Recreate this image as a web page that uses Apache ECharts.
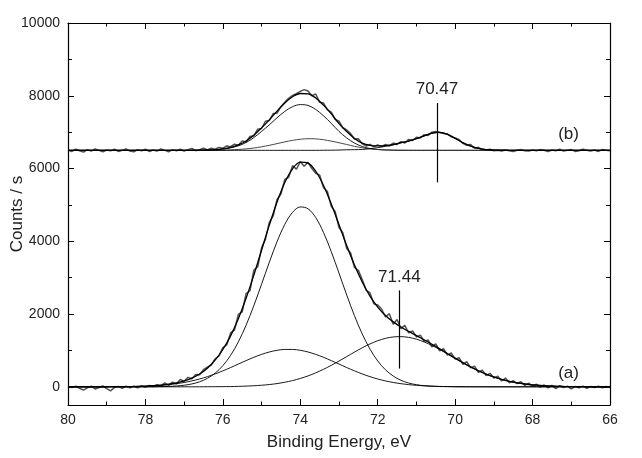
<!DOCTYPE html>
<html>
<head>
<meta charset="utf-8">
<script src="https://cdn.jsdelivr.net/npm/echarts@6/dist/echarts.min.js"></script>
<style>
html,body{margin:0;padding:0;background:#fff;}
#chart{width:642px;height:458px;}
</style>
</head>
<body>
<div id="chart"></div>
<script>
// Energy grid for fitted curves (eV), 0.2 eV step
const eFit = [80.0,79.8,79.6,79.4,79.2,79.0,78.8,78.6,78.4,78.2,
78.0,77.8,77.6,77.4,77.2,77.0,76.8,76.6,76.4,76.2,
76.0,75.8,75.6,75.4,75.2,75.0,74.8,74.6,74.4,74.2,
74.0,73.8,73.6,73.4,73.2,73.0,72.8,72.6,72.4,72.2,
72.0,71.8,71.6,71.4,71.2,71.0,70.8,70.6,70.4,70.2,
70.0,69.8,69.6,69.4,69.2,69.0,68.8,68.6,68.4,68.2,
68.0,67.8,67.6,67.4,67.2,67.0,66.8,66.6,66.4,66.2,66.0];

// Energy grid for measured spectra (eV), 0.1 eV step
const eData = [80.0,79.9,79.8,79.7,79.6,79.5,79.4,79.3,79.2,79.1,
79.0,78.9,78.8,78.7,78.6,78.5,78.4,78.3,78.2,78.1,
78.0,77.9,77.8,77.7,77.6,77.5,77.4,77.3,77.2,77.1,
77.0,76.9,76.8,76.7,76.6,76.5,76.4,76.3,76.2,76.1,
76.0,75.9,75.8,75.7,75.6,75.5,75.4,75.3,75.2,75.1,
75.0,74.9,74.8,74.7,74.6,74.5,74.4,74.3,74.2,74.1,
74.0,73.9,73.8,73.7,73.6,73.5,73.4,73.3,73.2,73.1,
73.0,72.9,72.8,72.7,72.6,72.5,72.4,72.3,72.2,72.1,
72.0,71.9,71.8,71.7,71.6,71.5,71.4,71.3,71.2,71.1,
71.0,70.9,70.8,70.7,70.6,70.5,70.4,70.3,70.2,70.1,
70.0,69.9,69.8,69.7,69.6,69.5,69.4,69.3,69.2,69.1,
69.0,68.9,68.8,68.7,68.6,68.5,68.4,68.3,68.2,68.1,
68.0,67.9,67.8,67.7,67.6,67.5,67.4,67.3,67.2,67.1,
67.0,66.9,66.8,66.7,66.6,66.5,66.4,66.3,66.2,66.1,66.0];

// Spectrum (a): measured counts
const aData = [10,-20,15,-40,-90,-30,20,-60,-20,25,
-50,-110,-20,10,-40,20,-30,15,-25,30,
-10,40,5,60,20,110,40,130,80,200,
150,260,220,340,330,470,540,600,770,850,
1080,1150,1480,1560,1990,2060,2560,2640,3210,3300,
3820,4060,4520,4700,5150,5300,5700,5760,6080,5980,
6190,6060,6170,6000,5870,5820,5480,5370,4960,4820,
4380,4230,3800,3680,3280,3200,2950,2660,2580,2280,
2250,2140,1920,2010,1720,1850,1600,1690,1480,1540,
1370,1420,1250,1290,1100,1180,990,1050,870,930,
760,800,620,690,520,570,400,460,310,370,
240,290,160,240,110,170,90,140,40,100,
20,70,-10,50,-30,40,-50,30,-20,20,
-60,10,-30,20,-40,10,-20,15,-30,10,-20];

// Spectrum (a): fitted components and envelope
const aComp1 = [0,0,0,0,0,0,0,0,0,0,
1,3,6,11,23,43,79,138,232,375,
582,864,1234,1693,2231,2821,3424,3990,4464,4795,
4944,4894,4650,4242,3715,3124,2521,1953,1453,1037,
711,468,296,179,104,58,31,16,8,4,
2,0,0,0,0,0,0,0,0,0,
0,0,0,0,0,0,0,0,0,0,0];
const aComp2 = [0,0,1,1,1,2,3,4,7,11,
18,27,41,60,86,119,162,215,279,354,
438,529,625,720,811,891,957,1003,1027,1027,
1003,957,891,811,720,625,529,438,354,279,
215,162,119,86,60,41,27,18,11,7,
4,3,2,1,1,0,0,0,0,0,
0,0,0,0,0,0,0,0,0,0,0];
const aComp3 = [0,0,0,0,0,0,0,0,0,0,
0,0,0,0,0,0,0,0,2,3,
5,7,12,19,29,43,62,89,125,171,
229,299,384,481,590,708,831,954,1072,1178,
1266,1332,1370,1379,1358,1309,1233,1137,1026,905,
781,660,545,441,348,270,204,151,109,77,
54,36,24,16,10,6,4,2,1,1,0];
const aEnvelope = [0,0,1,1,1,2,3,4,7,11,
19,30,47,71,109,162,241,353,513,732,
1025,1400,1871,2432,3071,3755,4443,5082,5616,5993,
6176,6150,5925,5534,5025,4457,3881,3345,2879,2494,
2192,1962,1785,1644,1522,1408,1291,1171,1045,916,
787,663,547,442,349,270,204,151,109,77,
54,36,24,16,10,6,4,2,1,1,0];

// Spectrum (b): measured counts
const bData = [6510,6470,6530,6490,6450,6520,6480,6540,6500,6460,
6510,6490,6530,6470,6500,6540,6480,6460,6520,6490,
6530,6470,6510,6480,6540,6500,6460,6520,6490,6530,
6480,6520,6550,6490,6520,6560,6510,6560,6530,6580,
6560,6620,6600,6670,6640,6760,6730,6880,6900,7080,
7100,7300,7320,7510,7520,7700,7820,7930,8010,8060,
8120,8170,8130,8000,8050,7820,7800,7620,7550,7350,
7300,7120,7060,6960,6810,6820,6680,6620,6660,6600,
6650,6600,6660,6620,6700,6660,6740,6700,6800,6770,
6860,6840,6930,6910,7000,7020,6990,6960,6950,6870,
6840,6800,6690,6640,6660,6560,6580,6520,6510,6530,
6490,6500,6480,6510,6490,6470,6500,6520,6490,6480,
6510,6490,6520,6500,6470,6510,6490,6530,6480,6500,
6520,6470,6490,6530,6500,6480,6510,6470,6520,6500,6490];

// Spectrum (b): fitted components and envelope (absolute counts)
const bComp1 = [6500,6500,6500,6500,6500,6500,6500,6500,6500,6500,
6500,6500,6500,6500,6500,6500,6501,6503,6508,6517,
6535,6568,6625,6715,6850,7020,7200,7395,7570,7700,
7757,7734,7623,7449,7243,7020,6840,6700,6605,6550,
6522,6509,6503,6501,6500,6500,6500,6500,6500,6500,
6500,6500,6500,6500,6500,6500,6500,6500,6500,6500,
6500,6500,6500,6500,6500,6500,6500,6500,6500,6500,6500];
const bComp2 = [6500,6500,6500,6500,6500,6500,6500,6500,6500,6500,
6500,6500,6500,6500,6500,6500,6500,6500,6501,6503,
6507,6513,6524,6540,6564,6597,6638,6684,6732,6774,
6805,6819,6815,6791,6754,6708,6661,6610,6570,6542,
6524,6513,6506,6503,6501,6500,6500,6500,6500,6500,
6500,6500,6500,6500,6500,6500,6500,6500,6500,6500,
6500,6500,6500,6500,6500,6500,6500,6500,6500,6500,6500];
const bComp3 = [6500,6500,6500,6500,6500,6500,6500,6500,6500,6500,
6500,6500,6500,6500,6500,6500,6500,6500,6500,6500,
6500,6500,6500,6500,6500,6500,6500,6500,6500,6500,
6500,6500,6500,6502,6504,6508,6515,6518,6525,6545,
6575,6610,6650,6705,6755,6820,6900,6970,6995,6940,
6830,6710,6615,6555,6522,6508,6503,6500,6500,6500,
6500,6500,6500,6500,6500,6500,6500,6500,6500,6500,6500];
const bEnvelope = [6500,6500,6500,6500,6500,6500,6500,6500,6500,6500,
6500,6500,6500,6500,6500,6500,6501,6503,6509,6520,
6542,6581,6649,6755,6914,7117,7338,7579,7802,7974,
8062,8053,7938,7742,7501,7236,7016,6828,6700,6637,
6621,6632,6659,6709,6756,6820,6900,6970,6995,6940,
6830,6710,6615,6555,6522,6508,6503,6500,6500,6500,
6500,6500,6500,6500,6500,6500,6500,6500,6500,6500,6500];

// Axis ticks
const yMajor = [0,2000,4000,6000,8000,10000];
const yMinor = [1000,3000,5000,7000,9000];

// Peak markers
const peakA = {label:'71.44', x:71.44, y0:500, y1:2650};
const peakB = {label:'70.47', x:70.47, y0:5620, y1:7800};
const specLabels = [{text:'(a)', x:67.07, y:366}, {text:'(b)', x:67.07, y:6935}];

const zip = (xs, ys) => xs.map((x, i) => [x, ys[i]]);
const FONT = "'Liberation Sans', Arial, sans-serif";
const TXT = '#222';

const chart = echarts.init(document.getElementById('chart'), null, {renderer:'canvas'});

const baseX = {
  type:'value', min:66, max:80, interval:2, inverse:true,
  axisLine:{show:true, onZero:false, lineStyle:{color:'#000', width:1.2}},
  axisTick:{show:true, inside:true, length:6, lineStyle:{color:'#000', width:1}},
  minorTick:{show:true, splitNumber:2, length:3.5, lineStyle:{color:'#000', width:1}},
  splitLine:{show:false}, minorSplitLine:{show:false}
};
const baseY = {
  type:'value', min:-500, max:10000,
  axisLine:{show:true, onZero:false, lineStyle:{color:'#000', width:1.2}},
  splitLine:{show:false}
};

function fitSeries(ys, width, extra) {
  return Object.assign({
    type:'line', data: zip(eFit, ys), showSymbol:false, symbol:'none',
    smooth:0.35, lineStyle:{color:'#000', width:width}, z:3, silent:true
  }, extra || {});
}
function markLineFor(p) {
  return {
    silent:true, symbol:['none','none'], animation:false,
    lineStyle:{color:'#000', width:1.2, type:'solid'},
    label:{show:true, position:'end', formatter:p.label, fontSize:17, color:TXT, fontFamily:FONT, distance:5},
    data:[[{coord:[p.x, p.y0]}, {coord:[p.x, p.y1]}]]
  };
}

const option = {
  animation:false,
  backgroundColor:'#fff',
  textStyle:{fontFamily:FONT},
  grid:{left:68, right:32, top:23, bottom:53, containLabel:false, outerBoundsMode:'none'},
  xAxis:[
    Object.assign({}, baseX, {
      position:'bottom',
      axisLabel:{show:true, fontSize:14, color:TXT, margin:8, fontFamily:FONT},
      name:'Binding Energy, eV', nameLocation:'middle', nameGap:29, nameMoveOverlap:false,
      nameTextStyle:{fontSize:17, color:TXT, fontFamily:FONT}
    }),
    Object.assign({}, baseX, {position:'top', axisLabel:{show:false}})
  ],
  yAxis:[
    Object.assign({}, baseY, {
      position:'left',
      axisTick:{show:true, inside:true, length:6, customValues:yMajor, lineStyle:{color:'#000'}},
      axisLabel:{show:true, customValues:yMajor, fontSize:14, color:TXT, margin:8, fontFamily:FONT,
                 formatter:(v) => String(v)},
      name:'Counts / s', nameLocation:'middle', nameGap:42, nameRotate:90, nameMoveOverlap:false,
      nameTextStyle:{fontSize:17, color:TXT, fontFamily:FONT}
    }),
    Object.assign({}, baseY, {
      position:'right',
      axisTick:{show:true, inside:true, length:6, customValues:yMajor, lineStyle:{color:'#000'}},
      axisLabel:{show:false}
    }),
    Object.assign({}, baseY, {
      position:'left', axisLine:{show:false},
      axisTick:{show:true, inside:true, length:4, customValues:yMinor, lineStyle:{color:'#000'}},
      axisLabel:{show:false}
    }),
    Object.assign({}, baseY, {
      position:'right', axisLine:{show:false},
      axisTick:{show:true, inside:true, length:4, customValues:yMinor, lineStyle:{color:'#000'}},
      axisLabel:{show:false}
    })
  ],
  series:[
    {type:'line', data:zip(eData, aData), showSymbol:false, symbol:'none',
     lineStyle:{color:'#505050', width:1.5}, z:2, silent:true},
    {type:'line', data:zip(eData, bData), showSymbol:false, symbol:'none',
     lineStyle:{color:'#505050', width:1.5}, z:2, silent:true},
    fitSeries(aComp1, 0.9),
    fitSeries(aComp2, 0.9),
    fitSeries(aComp3, 0.9),
    fitSeries(aEnvelope, 1.3, {markLine: markLineFor(peakA),
      markPoint:{symbol:'circle', symbolSize:1, itemStyle:{color:'rgba(0,0,0,0)'}, silent:true,
        label:{show:true, position:'inside', formatter:specLabels[0].text, fontSize:17, color:TXT, fontFamily:FONT},
        data:[{coord:[specLabels[0].x, specLabels[0].y]}]}}),
    fitSeries(bComp1, 0.9),
    fitSeries(bComp2, 0.9, {lineStyle:{color:'#333', width:0.9}}),
    fitSeries(bComp3, 0.9),
    fitSeries(bEnvelope, 1.3, {markLine: markLineFor(peakB),
      markPoint:{symbol:'circle', symbolSize:1, itemStyle:{color:'rgba(0,0,0,0)'}, silent:true,
        label:{show:true, position:'inside', formatter:specLabels[1].text, fontSize:17, color:TXT, fontFamily:FONT},
        data:[{coord:[specLabels[1].x, specLabels[1].y]}]}})
  ]
};
chart.setOption(option);
</script>
</body>
</html>
